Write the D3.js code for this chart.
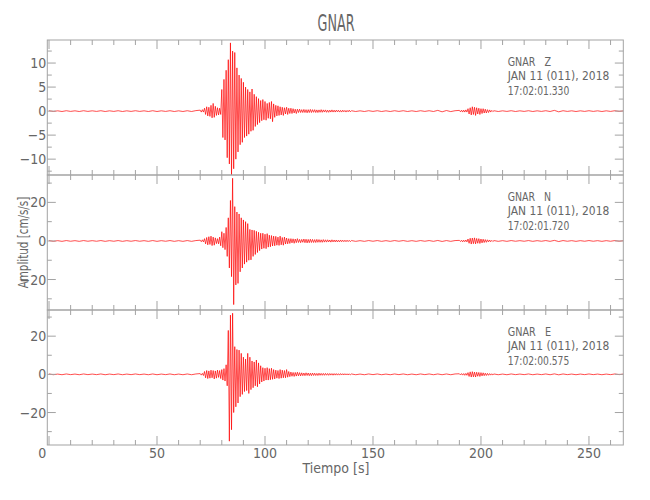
<!DOCTYPE html>
<html><head><meta charset="utf-8">
<script src="https://cdn.jsdelivr.net/npm/d3@7"></script>
<style>
html,body{margin:0;padding:0;background:#fff;}
text{font-family:"Liberation Sans Narrow","DejaVu Sans Condensed","Liberation Sans",sans-serif;fill:#666;white-space:pre;}
</style></head>
<body><svg id="c" width="650" height="500"></svg>
<script>
// ---------- data ----------
const title = "GNAR";
const xTickLabels = ["0","50","100","150","200","250"];
const components = ["Z","N","E"];
const stationLabels = ["GNAR   Z","GNAR   N","GNAR   E"];
const dateLabels = ["JAN 11 (011), 2018","JAN 11 (011), 2018","JAN 11 (011), 2018"];
const timeLabels = ["17:02:01.330","17:02:01.720","17:02:00.575"];
const yMajorTicks = [[-10,-5,0,5,10],[-20,0,20],[-20,0,20]];
const yMinorTicks = [[-12.5,-7.5,-2.5,2.5,7.5,12.5],[-30,-10,10,30],[-30,-10,10,30]];
const yDomains = [[-13.3,14.8],[-35.8,34.2],[-37,33.7]];

// segment starts / steps (s)
const segStart = [0,70,140,190,206];
const segStep  = [2,0.5,2,0.5,2];

// Z component (cm/s/s)
const zPre = [0.08,-0.08,0.06,-0.08,0.08,-0.06,0.06,-0.08,0.08,-0.06,0.06,-0.06,0.08,-0.08,0.06,-0.06,0.08,-0.08,0.06,-0.06,0.08,-0.06,0.06,-0.08,0.08,-0.08,0.06,-0.06,0.08,-0.08,0.06,-0.08,0.08,-0.08,0.1];
const zMain = [0.2,-0.2,0.3,-0.2,0.6,-0.7,0.9,-1.0,0.8,-1.1,1.2,-1.4,1.6,-1.3,1.0,-0.9,0.7,-0.8,0.6,-0.7,
  4.5,-5.5,6.6,-6.0,8.5,-9.7,10.7,-11.0,14.2,-13.3,12.5,-12.0,12.2,-10.0,9.0,-8.5,7.5,-7.0,6.8,-6.5,
  6.0,-5.5,5.0,-5.2,4.5,-4.8,4.0,-4.2,4.6,-4.0,3.5,-3.2,3.0,-2.8,2.6,-2.4,2.2,-2.0,2.4,-1.8,
  2.0,-1.9,1.6,-1.5,1.8,-1.6,2.0,-2.2,1.5,-1.3,1.2,-1.0,1.1,-0.9,0.9,-0.8,0.8,-0.9,0.7,-0.6,
  0.8,-0.7,0.6,-0.5,0.6,-0.5,0.5,-0.4,0.4,-0.5,0.4,-0.3,0.4,-0.3,0.3,-0.3,
  0.35,-0.3,0.3,-0.35,0.3,-0.3,0.35,-0.3,0.3,-0.25,0.3,-0.3,0.25,-0.3,0.25,-0.25,0.3,-0.25,0.25,-0.2,
  0.25,-0.25,0.2,-0.25,0.2,-0.2,0.25,-0.2,0.2,-0.2,0.2,-0.15,0.2,-0.2,0.15,-0.2,0.2,-0.15,0.15,-0.2,
  0.15,-0.15,0.2,-0.15];
const zMid = [0.08,-0.08,0.06,-0.08,0.08,-0.06,0.08,-0.08,0.06,-0.08,0.08,-0.06,0.08,-0.08,0.06,-0.08,0.08,-0.06,0.08,-0.08,0.15,-0.15,0.12,-0.1,0.08];
const zBurst = [0.15,-0.15,0.2,-0.2,0.2,-0.2,0.25,-0.2,0.5,-0.6,0.7,-0.8,0.9,-0.7,0.8,-0.9,0.7,-0.6,0.6,-0.7,0.5,-0.5,0.5,-0.4,0.4,-0.4,0.3,-0.3,0.25,-0.2,0.15,-0.1];
const zEnd = [0.08,-0.08,0.06,-0.06,0.08,-0.08,0.06,-0.06,0.08,-0.08,0.06,-0.06,0.08,-0.08,0.15,-0.15,0.08,-0.06,0.06,-0.08,0.06,-0.06,0.08,-0.06,0.06,-0.08,0.06,-0.06,0.08,-0.06,0.05];

// N component
const nPre = [0.2,-0.2,0.15,-0.2,0.2,-0.15,0.15,-0.2,0.2,-0.15,0.15,-0.15,0.2,-0.2,0.15,-0.15,0.2,-0.2,0.15,-0.15,0.2,-0.15,0.15,-0.2,0.2,-0.2,0.15,-0.15,0.2,-0.2,0.15,-0.2,0.2,-0.2,0.2];
const nMain = [0.4,-0.4,0.6,-0.5,1.2,-1.5,1.8,-2.0,2.2,-1.8,2.5,-2.4,2.0,-2.2,1.6,-1.4,1.2,-1.5,2.0,-2.5,
  4.8,-3.5,4.0,-4.5,7.0,-8.0,12.0,-14.0,21.0,-18.5,32.5,-33.0,17.8,-22.8,15.0,-22.0,14.0,-16.0,12.0,-14.0,
  10.9,-12.0,10.0,-11.0,9.0,-10.0,6.0,-9.8,5.7,-8.0,5.5,-7.0,5.0,-6.0,4.5,-5.0,4.0,-4.2,4.0,-3.8,
  3.5,-4.0,3.8,-3.2,3.0,-3.0,2.8,-2.6,2.5,-2.5,2.4,-2.2,2.0,-2.3,2.5,-2.0,1.8,-2.2,2.0,-1.6,
  1.5,-1.5,1.2,-1.3,1.2,-1.0,1.1,-1.2,1.0,-0.9,1.2,-0.8,0.8,-0.9,0.8,-0.7,
  1.0,-0.9,0.9,-1.0,0.8,-0.9,0.9,-0.8,0.8,-0.8,0.7,-0.8,0.8,-0.7,0.7,-0.7,0.6,-0.7,0.7,-0.6,
  0.6,-0.6,0.6,-0.5,0.5,-0.6,0.6,-0.5,0.5,-0.5,0.5,-0.5,0.4,-0.5,0.5,-0.4,0.4,-0.4,0.4,-0.4,
  0.4,-0.35,0.35,-0.35];
const nMid = [0.2,-0.2,0.15,-0.2,0.2,-0.15,0.2,-0.2,0.15,-0.2,0.2,-0.15,0.2,-0.2,0.15,-0.2,0.2,-0.15,0.2,-0.2,0.25,-0.25,0.2,-0.2,0.2];
const nBurst = [0.3,-0.3,0.4,-0.5,0.4,-0.4,0.5,-0.5,1.0,-1.2,1.4,-1.6,1.5,-1.4,1.6,-1.5,1.3,-1.2,1.2,-1.3,1.0,-1.0,0.9,-0.8,0.7,-0.7,0.6,-0.5,0.5,-0.4,0.3,-0.3];
const nEnd = [0.2,-0.2,0.15,-0.2,0.2,-0.15,0.15,-0.15,0.2,-0.2,0.15,-0.15,0.2,-0.2,0.3,-0.3,0.2,-0.15,0.15,-0.2,0.15,-0.15,0.2,-0.15,0.15,-0.2,0.15,-0.15,0.2,-0.15,0.15];

// E component
const ePre = [0.2,-0.2,0.15,-0.2,0.2,-0.15,0.15,-0.2,0.2,-0.15,0.15,-0.15,0.2,-0.2,0.15,-0.15,0.2,-0.2,0.15,-0.15,0.2,-0.15,0.15,-0.2,0.2,-0.2,0.15,-0.15,0.2,-0.2,0.15,-0.2,0.2,-0.2,0.2];
const eMain = [0.4,-0.4,0.5,-0.6,1.5,-1.8,2.0,-2.2,1.8,-2.0,2.2,-1.8,2.0,-2.4,1.8,-2.0,2.2,-1.6,2.0,-2.2,
  2.5,-3.0,3.0,-3.5,5.0,-6.0,23.0,-35.0,31.0,-29.0,32.0,-20.0,14.5,-17.0,13.0,-15.0,12.7,-11.7,11.0,-10.5,
  9.0,-9.0,8.0,-8.5,11.0,-10.0,9.0,-8.0,7.0,-7.0,6.5,-6.0,7.5,-6.5,6.0,-5.0,4.5,-4.0,3.5,-3.5,
  3.2,-3.0,3.5,-3.0,3.0,-2.8,3.2,-2.6,2.5,-2.4,2.2,-2.0,2.0,-2.2,2.5,-2.0,2.2,-1.8,2.0,-1.8,
  2.5,-1.5,1.5,-1.2,1.2,-1.0,1.0,-1.1,1.0,-0.9,1.1,-0.8,0.9,-0.8,0.8,-0.7,
  0.7,-0.7,0.8,-0.6,0.7,-0.7,0.6,-0.7,0.7,-0.6,0.6,-0.6,0.5,-0.6,0.6,-0.5,0.5,-0.5,0.5,-0.5,
  0.5,-0.45,0.45,-0.5,0.45,-0.4,0.4,-0.45,0.4,-0.4,0.4,-0.4,0.35,-0.4,0.4,-0.35,0.35,-0.35,0.35,-0.3,
  0.3,-0.35,0.3,-0.3];
const eMid = [0.2,-0.2,0.15,-0.2,0.2,-0.15,0.2,-0.2,0.15,-0.2,0.2,-0.15,0.2,-0.2,0.15,-0.2,0.2,-0.15,0.2,-0.2,0.2,-0.2,0.2,-0.2,0.2];
const eBurst = [0.3,-0.3,0.4,-0.4,0.4,-0.5,0.5,-0.5,0.9,-1.1,1.3,-1.4,1.4,-1.3,1.2,-1.4,1.1,-1.0,1.0,-1.1,0.9,-0.8,0.8,-0.7,0.6,-0.6,0.5,-0.5,0.4,-0.4,0.3,-0.3];
const eEnd = [0.2,-0.2,0.15,-0.2,0.2,-0.15,0.15,-0.15,0.2,-0.2,0.15,-0.15,0.2,-0.2,0.25,-0.25,0.2,-0.15,0.15,-0.2,0.15,-0.15,0.2,-0.15,0.15,-0.2,0.15,-0.15,0.2,-0.15,0.15];

const traces = [[zPre,zMain,zMid,zBurst,zEnd],[nPre,nMain,nMid,nBurst,nEnd],[ePre,eMain,eMid,eBurst,eEnd]];

// ---------- layout ----------
const svg = d3.select("#c");
const axisColor = "#a3a3a3";
const xLeft = 47.3, xRight = 623.3;
const panelTops = [40,175,310], panelH = 135;
const x = d3.scaleLinear().domain([-0.8,265.9]).range([xLeft,xRight]);

svg.append("text").attr("x",336).attr("y",30.5).attr("text-anchor","middle")
  .attr("font-size",23).attr("textLength",37).attr("lengthAdjust","spacingAndGlyphs").text(title);

const xMajor = d3.range(0,251,50), xMinor = d3.range(10,261,10).filter(v=>v%50!==0);

components.forEach((c,i)=>{
  const top = panelTops[i], bot = top+panelH;
  const y = d3.scaleLinear().domain(yDomains[i]).range([bot,top]);
  const g = svg.append("g");
  const clipId = "clip"+i;
  svg.append("clipPath").attr("id",clipId).append("rect")
    .attr("x",xLeft).attr("y",top).attr("width",xRight-xLeft).attr("height",panelH);

  // trace
  const pts = [];
  traces[i].forEach((seg,k)=>seg.forEach((v,j)=>pts.push({t:segStart[k]+j*segStep[k], v})));
  g.append("path").datum(pts).attr("clip-path",`url(#${clipId})`)
    .attr("fill","none").attr("stroke","#ff0000").attr("stroke-width",0.7)
    .attr("d",d3.line().x(d=>x(d.t)).y(d=>y(d.v)));

  // frame
  g.append("rect").attr("x",xLeft).attr("y",top).attr("width",xRight-xLeft).attr("height",panelH)
    .attr("fill","none").attr("stroke",axisColor).attr("stroke-width",1);

  // x ticks top/bottom
  const tk = (v,len)=>{
    g.append("line").attr("x1",x(v)).attr("x2",x(v)).attr("y1",top).attr("y2",top+len).attr("stroke",axisColor);
    g.append("line").attr("x1",x(v)).attr("x2",x(v)).attr("y1",bot).attr("y2",bot-len).attr("stroke",axisColor);
  };
  xMajor.forEach(v=>tk(v,9));
  xMinor.forEach(v=>tk(v,5));

  // y ticks left/right
  const ytk = (v,len)=>{
    g.append("line").attr("x1",xLeft).attr("x2",xLeft+len).attr("y1",y(v)).attr("y2",y(v)).attr("stroke",axisColor);
    g.append("line").attr("x1",xRight).attr("x2",xRight-len).attr("y1",y(v)).attr("y2",y(v)).attr("stroke",axisColor);
  };
  yMajorTicks[i].forEach(v=>ytk(v,8.5));
  yMinorTicks[i].forEach(v=>ytk(v,4.5));
  yMajorTicks[i].forEach(v=>{
    g.append("text").attr("x",xLeft-1).attr("y",y(v)+5).attr("text-anchor","end")
      .attr("font-size",14).text(v<0?"\u2212"+Math.abs(v):String(v));
  });

  // annotations
  const ann = [[stationLabels[i],26,43.3],[dateLabels[i],40.3,101.6],[timeLabels[i],54.5,61.6]];
  ann.forEach(([s,dy,w])=>{
    g.append("text").attr("x",507.7).attr("y",top+dy).attr("font-size",12.5)
      .attr("textLength",w).attr("lengthAdjust","spacingAndGlyphs").text(s);
  });
});

// x tick labels
xMajor.forEach((v,k)=>{
  svg.append("text").attr("x",v===0?42.3:x(v)).attr("y",458.3).attr("text-anchor","middle")
    .attr("font-size",14).text(xTickLabels[k]);
});
svg.append("text").attr("x",336).attr("y",473).attr("text-anchor","middle").attr("font-size",14)
  .text("Tiempo [s]");
svg.append("text").attr("transform","translate(27.5,242.5) rotate(-90)").attr("text-anchor","middle")
  .attr("font-size",14).attr("textLength",91.6).attr("lengthAdjust","spacingAndGlyphs").text("Amplitud [cm/s/s]");
</script></body></html>
